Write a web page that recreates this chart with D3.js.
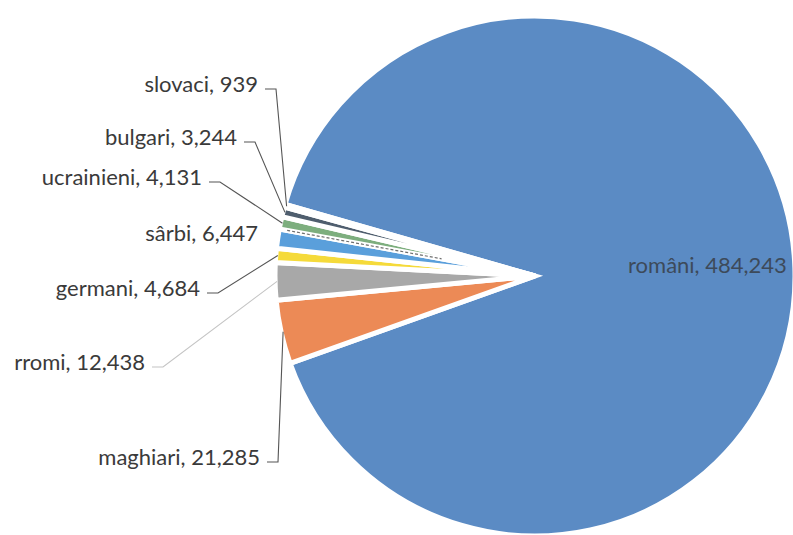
<!DOCTYPE html>
<html><head><meta charset="utf-8">
<script src="https://cdn.jsdelivr.net/npm/d3@7/dist/d3.min.js"></script>
<style>body{margin:0;background:#fff}svg{display:block}</style>
</head><body>
<svg id="c" width="793" height="535"></svg>
<script>
// data
const categories = ["români","maghiari","rromi","germani","sârbi","ucrainieni","bulgari","slovaci"];
const values = [484243,21285,12438,4684,6447,4131,3244,939];
const colors = ["#5B8BC4","#EC8A56","#A8A8A8","#F5DA3A","#5A9FDB","#7DAE7E","#4F5E6E","#8E5A3A"];

// layout (label anchor: x, vertical center y)
const labelPos = [
  {x:628,y:265,anchor:"start",leader:false,color:"#3d4a5a"},
  {x:260,y:457,anchor:"end",leader:true,lc:"#555"},
  {x:145,y:362,anchor:"end",leader:true,lc:"#c4c4c4"},
  {x:200,y:288,anchor:"end",leader:true,lc:"#555"},
  {x:258,y:233,anchor:"end",leader:false},
  {x:202,y:177,anchor:"end",leader:true,lc:"#555"},
  {x:237,y:137,anchor:"end",leader:true,lc:"#555"},
  {x:258,y:84,anchor:"end",leader:true,lc:"#555"}
];

const W=793,H=535,cx=535,cy=276,R=260;
const fmt=d3.format(",");
const svg=d3.select("#c");
svg.append("rect").attr("width",W).attr("height",H).attr("fill","#fff");
const g=svg.append("g").attr("transform",`translate(${cx},${cy})`);
const start=286*Math.PI/180;
const pie=d3.pie().sort(null).value(d=>d).startAngle(start).endAngle(start+2*Math.PI);
const arcs=pie(values);
const arc=d3.arc().innerRadius(0).outerRadius(R);
g.selectAll("path.s").data(arcs).join("path").attr("class","s")
  .attr("d",arc).attr("fill",(d,i)=>colors[i])
  .attr("stroke","#fff").attr("stroke-width",5).attr("stroke-linejoin","miter");

// faint artifact line along sârbi/ucrainieni boundary
const ba=arcs[4].endAngle;
g.append("line")
  .attr("x1",Math.sin(ba)*252).attr("y1",-Math.cos(ba)*252)
  .attr("x2",Math.sin(ba)*95).attr("y2",-Math.cos(ba)*95)
  .attr("stroke","#333").attr("stroke-width",1.2).attr("stroke-dasharray","3,2").attr("opacity",0.7);

// labels + leaders
arcs.forEach((a,i)=>{
  const p=labelPos[i];
  svg.append("text").attr("x",p.x).attr("y",p.y).attr("dy","0.35em")
    .attr("text-anchor",p.anchor).attr("font-family","Lato, 'Noto Sans', sans-serif")
    .attr("font-size",22).attr("fill",p.color||"#3a3a3a")
    .text(`${categories[i]}, ${fmt(values[i])}`);
  if(p.leader){
    const m=(a.startAngle+a.endAngle)/2;
    const ex=cx+Math.sin(m)*(R-2), ey=cy-Math.cos(m)*(R-2);
    const sx=p.x+7, sy=p.y+5, kx=sx+11;
    svg.append("path").attr("d",`M${sx},${sy}L${kx},${sy}L${ex},${ey}`)
      .attr("fill","none").attr("stroke",p.lc).attr("stroke-width",1.1);
  }
});
</script>
</body></html>
